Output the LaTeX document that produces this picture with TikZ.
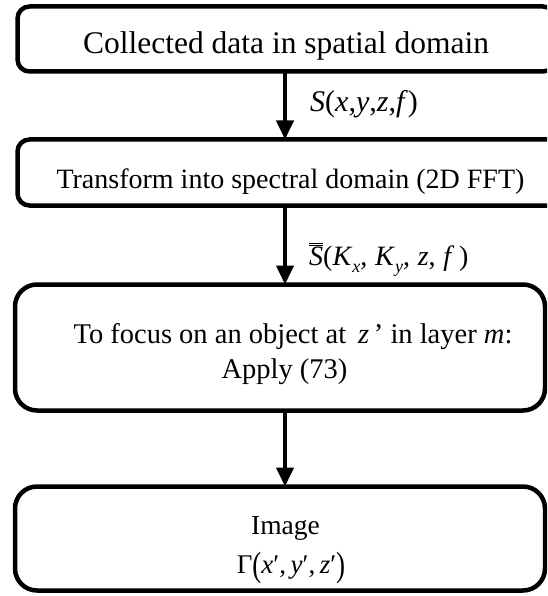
\documentclass[tikz,border=0pt]{standalone}
\usepackage{fontspec}
\setmainfont{Liberation Serif}
\usepackage{graphicx}
\usetikzlibrary{arrows.meta}
\newcommand{\subsc}[1]{\raisebox{-0.28em}{\fontsize{18}{20}\selectfont\textit{#1}}}
\begin{document}
\begin{tikzpicture}[x=1pt,y=-1pt,
  box/.style={draw, line width=4.5pt, outer sep=0pt, inner sep=0pt, rounded corners=12pt},
  bigbox/.style={box, rounded corners=22pt},
  txt/.style={inner sep=0pt, anchor=base},
  lbl/.style={inner sep=0pt, anchor=base west},
  arr/.style={line width=4pt, -{Triangle[length=19pt,width=17pt]}}]
\clip (0,0) rectangle (547,596);
\useasboundingbox (0,0) rectangle (547,596);
% boxes
\node[box, minimum width=537.5pt, minimum height=65pt] (b1) at (286.25,39) {};
\node[box, minimum width=544.5pt, minimum height=66pt] (b2) at (289.75,172.5) {};
\node[bigbox, minimum width=530pt, minimum height=126pt] (b3) at (280,347.5) {};
\node[bigbox, minimum width=530pt, minimum height=104pt] (b4) at (280,538.5) {};
% texts
\node[txt, font=\fontsize{31.5}{36}\selectfont] (t1) at (286,54) {Collected data in spatial domain};
\node[txt, font=\fontsize{28}{32}\selectfont] (t2) at (290.5,188.5) {Transform into spectral domain (2D FFT)};
\node[txt, font=\fontsize{28.5}{32}\selectfont] (t3) at (293,343.5) {To focus on an object at \,\textit{z}\,' in layer \textit{m}:};
\node[txt, font=\fontsize{28.5}{32}\selectfont] (t4) at (284.5,378) {Apply (73)};
\node[txt, font=\fontsize{27.5}{32}\selectfont] (t5) at (285.5,534) {Image};
\node[txt, font=\fontsize{27}{32}\selectfont] (t6) at (291,573) {Γ\raisebox{-0.12em}{\scalebox{1}[1.3]{(}}\textit{x}′,\,\textit{y}′,\,\textit{z}′\raisebox{-0.12em}{\scalebox{1}[1.3]{)}}};
% labels
\node[lbl, font=\fontsize{30}{34}\selectfont] (l1) at (310,112) {\textit{S}(\textit{x},\textit{y},\textit{z},\textit{f})};
\node[lbl, font=\fontsize{28}{32}\selectfont] (l2) at (309,265) {$\overline{\overline{\hbox{\itshape S}}}$(\textit{K}\subsc{x},\;\textit{K}\subsc{y},\;\textit{z},\;\textit{f}\,)};
% arrows
\coordinate (ax) at (285,0);
\draw[arr] (b1.south -| ax) -- (b2.north -| ax);
\draw[arr] (b2.south -| ax) -- (b3.north -| ax);
\draw[arr] (b3.south -| ax) -- (b4.north -| ax);
\end{tikzpicture}
\end{document}
